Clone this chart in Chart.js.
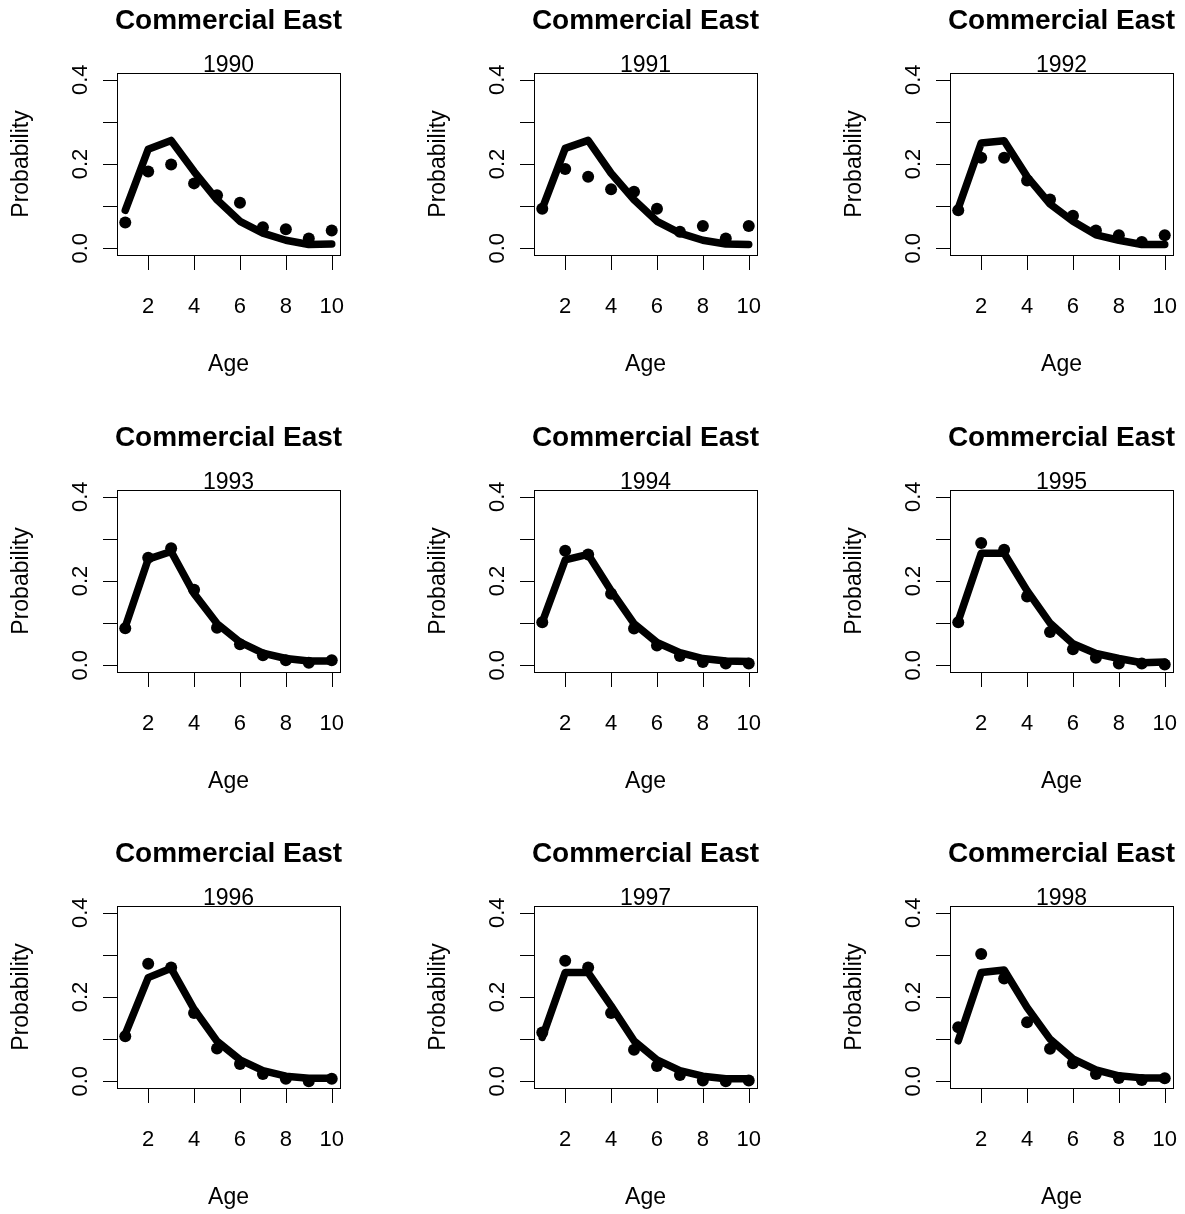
<!DOCTYPE html>
<html>
<head>
<meta charset="utf-8">
<script src="https://cdn.jsdelivr.net/npm/chart.js@4.4.1/dist/chart.umd.min.js"></script>
<style>
  html, body { margin: 0; padding: 0; background: #fff; }
  body { width: 1185px; height: 1214px; overflow: hidden; position: relative; }
  canvas { position: absolute; }
</style>
</head>
<body>
<div id="grid"></div>
<script>
// ages on the x axis
const ages = [1, 2, 3, 4, 5, 6, 7, 8, 9, 10];
const years = ['1990', '1991', '1992', '1993', '1994', '1995', '1996', '1997', '1998'];
const xTickValues = [2, 4, 6, 8, 10];
const xTickLabels = ['2', '4', '6', '8', '10'];
const yTickValues = [0, 0.1, 0.2, 0.3, 0.4];
const yTickLabels = ['0.0', '', '0.2', '', '0.4'];

// observed proportions (dots) and fitted curve (thick line) per year
const obs1990 = [0.061, 0.182, 0.199, 0.154, 0.126, 0.108, 0.050, 0.045, 0.023, 0.042];
const fit1990 = [0.090, 0.235, 0.256, 0.182, 0.115, 0.064, 0.036, 0.019, 0.009, 0.010];
const obs1991 = [0.094, 0.188, 0.170, 0.140, 0.134, 0.094, 0.039, 0.053, 0.023, 0.053];
const fit1991 = [0.094, 0.237, 0.256, 0.178, 0.115, 0.064, 0.036, 0.019, 0.010, 0.009];
const obs1992 = [0.090, 0.215, 0.215, 0.161, 0.116, 0.077, 0.042, 0.031, 0.015, 0.031];
const fit1992 = [0.095, 0.250, 0.255, 0.170, 0.105, 0.064, 0.032, 0.019, 0.009, 0.009];
const obs1993 = [0.088, 0.255, 0.278, 0.179, 0.089, 0.050, 0.024, 0.012, 0.006, 0.012];
const fit1993 = [0.091, 0.252, 0.270, 0.170, 0.099, 0.055, 0.029, 0.016, 0.010, 0.010];
const obs1994 = [0.102, 0.272, 0.263, 0.170, 0.087, 0.047, 0.022, 0.008, 0.004, 0.004];
const fit1994 = [0.102, 0.250, 0.263, 0.177, 0.099, 0.054, 0.030, 0.016, 0.010, 0.009];
const obs1995 = [0.102, 0.290, 0.274, 0.163, 0.079, 0.038, 0.018, 0.004, 0.004, 0.002];
const fit1995 = [0.105, 0.266, 0.266, 0.177, 0.100, 0.051, 0.028, 0.016, 0.006, 0.008];
const obs1996 = [0.107, 0.279, 0.270, 0.162, 0.078, 0.041, 0.017, 0.006, 0.000, 0.006];
const fit1996 = [0.112, 0.246, 0.268, 0.171, 0.095, 0.051, 0.025, 0.012, 0.007, 0.007];
const obs1997 = [0.116, 0.286, 0.270, 0.162, 0.075, 0.036, 0.015, 0.002, 0.000, 0.002];
const fit1997 = [0.104, 0.258, 0.258, 0.179, 0.096, 0.051, 0.025, 0.012, 0.006, 0.006];
const obs1998 = [0.128, 0.302, 0.244, 0.140, 0.077, 0.043, 0.017, 0.008, 0.003, 0.007];
const fit1998 = [0.096, 0.258, 0.264, 0.175, 0.100, 0.053, 0.027, 0.013, 0.008, 0.008];

const observed = [obs1990, obs1991, obs1992, obs1993, obs1994, obs1995, obs1996, obs1997, obs1998];
const fitted = [fit1990, fit1991, fit1992, fit1993, fit1994, fit1995, fit1996, fit1997, fit1998];

const FONT = '"Liberation Sans", Arial, Helvetica, sans-serif';
const PANEL = 416.5;

// draws the R style box, ticks and labels using the chart's own scales
const baseAxes = {
    id: 'baseAxes',
    afterDraw(chart, args, opts) {
        const ctx = chart.ctx;
        const a = chart.chartArea;
        const xs = chart.scales.x;
        const ys = chart.scales.y;
        ctx.save();
        ctx.strokeStyle = '#000';
        ctx.fillStyle = '#000';
        ctx.lineWidth = 1;

        // box
        ctx.strokeRect(a.left + 0.5, a.top + 0.5, a.right - a.left, a.bottom - a.top);

        // y ticks
        ctx.beginPath();
        yTickValues.forEach(v => {
            const py = Math.round(ys.getPixelForValue(v)) + 0.5;
            ctx.moveTo(a.left - 14, py);
            ctx.lineTo(a.left, py);
        });
        // x ticks
        xTickValues.forEach(v => {
            const px = Math.round(xs.getPixelForValue(v)) + 0.5;
            ctx.moveTo(px, a.bottom + 1);
            ctx.lineTo(px, a.bottom + 15);
        });
        ctx.stroke();

        // x tick labels
        ctx.font = '22px ' + FONT;
        ctx.textAlign = 'center';
        ctx.textBaseline = 'alphabetic';
        xTickValues.forEach((v, i) => {
            ctx.fillText(xTickLabels[i], xs.getPixelForValue(v), a.bottom + 58);
        });

        // y tick labels, rotated like R's las=0
        yTickValues.forEach((v, i) => {
            if (!yTickLabels[i]) return;
            ctx.save();
            ctx.translate(a.left - 30, ys.getPixelForValue(v));
            ctx.rotate(-Math.PI / 2);
            ctx.fillText(yTickLabels[i], 0, 0);
            ctx.restore();
        });

        const cx = (a.left + a.right) / 2;
        const cy = (a.top + a.bottom) / 2;

        // axis titles
        ctx.font = '23px ' + FONT;
        ctx.fillText('Age', cx, a.bottom + 116);
        ctx.save();
        ctx.translate(a.left - 89, cy);
        ctx.rotate(-Math.PI / 2);
        ctx.fillText('Probability', 0, 0);
        ctx.restore();

        // year subtitle
        ctx.fillText(opts.year, cx, a.top - 1);

        // main title
        ctx.font = 'bold 28px ' + FONT;
        ctx.fillText('Commercial East', cx, a.top - 44);
        ctx.restore();
    }
};

const grid = document.getElementById('grid');

years.forEach((year, idx) => {
    const col = idx % 3;
    const row = Math.floor(idx / 3);
    const canvas = document.createElement('canvas');
    canvas.width = 417;
    canvas.height = 417;
    canvas.style.left = Math.round(col * PANEL) + 'px';
    canvas.style.top = Math.round(row * PANEL) + 'px';
    grid.appendChild(canvas);

    new Chart(canvas.getContext('2d'), {
        type: 'line',
        data: {
            datasets: [
                {
                    label: 'Fitted',
                    data: ages.map((a, i) => ({ x: a, y: fitted[idx][i] })),
                    borderColor: '#000',
                    borderWidth: 7.5,
                    borderCapStyle: 'round',
                    borderJoinStyle: 'round',
                    pointRadius: 0,
                    tension: 0,
                    clip: false
                },
                {
                    label: 'Observed',
                    data: ages.map((a, i) => ({ x: a, y: observed[idx][i] })),
                    showLine: false,
                    pointStyle: 'circle',
                    pointRadius: 6,
                    pointBackgroundColor: '#000',
                    pointBorderColor: '#000',
                    pointBorderWidth: 0,
                    clip: false
                }
            ]
        },
        options: {
            responsive: false,
            animation: false,
            devicePixelRatio: 1,
            events: [],
            layout: {
                padding: { left: 117, top: 73, right: 77, bottom: 162 }
            },
            scales: {
                x: { type: 'linear', min: 0.64, max: 10.36, display: false },
                y: { type: 'linear', min: -0.016, max: 0.416, display: false }
            },
            plugins: {
                legend: { display: false },
                tooltip: { enabled: false },
                title: { display: false },
                baseAxes: { year: year }
            }
        },
        plugins: [baseAxes]
    });
});
</script>
</body>
</html>
